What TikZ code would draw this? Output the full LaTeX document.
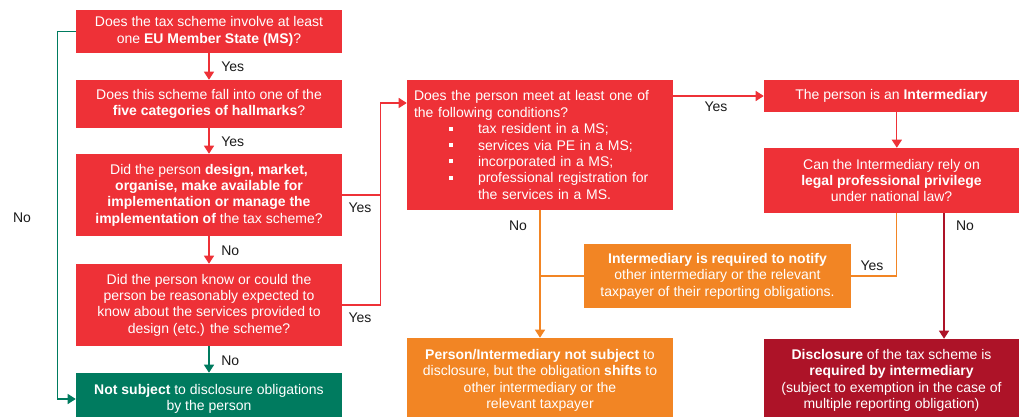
\documentclass[tikz,border=0pt]{standalone}
\usepackage{fontspec}
\setmainfont{Liberation Sans}
\usetikzlibrary{arrows.meta,calc}
\definecolor{cred}{HTML}{EE3137}
\definecolor{cgreen}{HTML}{007B5F}
\definecolor{corange}{HTML}{F28524}
\definecolor{cdark}{HTML}{AD1328}
\definecolor{ctext}{HTML}{1A1A1A}
\newcommand{\bul}{\rule[2.2pt]{3pt}{3pt}}
\begin{document}
\begin{tikzpicture}[x=0.75pt,y=-0.75pt,
  box/.style={rectangle, inner sep=0pt, text=white, align=center,
    font=\fontsize{10.5}{12.3}\selectfont},
  redbox/.style={box, fill=cred},
  greenbox/.style={box, fill=cgreen},
  orangebox/.style={box, fill=corange},
  darkbox/.style={box, fill=cdark},
  lbl/.style={text=ctext, font=\fontsize{10.5}{12.3}\selectfont, inner sep=0pt},
  conn/.style={line width=0.9pt},
  tip/.style={-{Triangle[width=7.5pt,length=6pt]}}
]
\useasboundingbox (0,0) rectangle (1021,417);
\fill[white] (0,0) rectangle (1021,417);

% left column
\node[redbox, minimum width=199.5pt, minimum height=32.25pt] (A) at (209,31.5)
  {Does the tax scheme involve at least\\ one \textbf{EU Member State (MS)}?};
\node[redbox, minimum width=199.5pt, minimum height=36pt] (B) at (209,104)
  {Does this scheme fall into one of the\\ \textbf{five categories of hallmarks}?};
\node[redbox, minimum width=199.5pt, minimum height=61.5pt] (C) at (209,195)
  {Did the person \textbf{design, market,}\\ \textbf{organise, make available for}\\ \textbf{implementation or manage the}\\ \textbf{implementation of} the tax scheme?};
\node[redbox, minimum width=199.5pt, minimum height=61.5pt] (D) at (209,305)
  {Did the person know or could the\\ person be reasonably expected to\\ know about the services provided to\\ design (etc.) the scheme?};
\node[greenbox, minimum width=199.5pt, minimum height=39pt] (E) at (209,399)
  {\textbf{Not subject} to disclosure obligations\\ by the person};

% middle column
\node[redbox, minimum width=199.5pt, minimum height=97.5pt, text width=189pt, align=left] (F) at (540,145)
  {Does the person meet at least one of\\ the following conditions?\\
   \hspace*{26pt}\bul\hspace{19pt}tax resident in a MS;\\
   \hspace*{26pt}\bul\hspace{19pt}services via PE in a MS;\\
   \hspace*{26pt}\bul\hspace{19pt}incorporated in a MS;\\
   \hspace*{26pt}\bul\hspace{19pt}professional registration for\\
   \hspace*{48pt}the services in a MS.};
\node[orangebox, minimum width=199.5pt, minimum height=63.75pt] (K) at (540,380.5)
  {\textbf{Person/Intermediary not subject} to\\ disclosure, but the obligation \textbf{shifts} to\\ other intermediary or the\\ relevant taxpayer};
\node[orangebox, minimum width=200.25pt, minimum height=48pt] (I) at (717.5,276)
  {\textbf{Intermediary is required to notify}\\ other intermediary or the relevant\\ taxpayer of their reporting obligations.};

% right column
\node[redbox, minimum width=191.25pt, minimum height=24pt] (G) at (891.5,96)
  {The person is an \textbf{Intermediary}};
\node[redbox, minimum width=191.25pt, minimum height=48.75pt] (H) at (891.5,180.5)
  {Can the Intermediary rely on\\ \textbf{legal professional privilege}\\ under national law?};
\node[darkbox, minimum width=191.25pt, minimum height=62.25pt] (J) at (891.5,380.5)
  {\textbf{Disclosure} of the tax scheme is\\ \textbf{required by intermediary}\\ (subject to exemption in the case of\\ multiple reporting obligation)};

% left column connectors
\draw[conn, cred, tip] (A) -- (B);
\draw[conn, cred, tip] (B) -- (C);
\draw[conn, cred, tip] (C) -- (D);
\draw[conn, cgreen, tip] (D) -- (E);
\node[lbl, anchor=west] (yA) at (221,67) {Yes};
\node[lbl, anchor=west] (yB) at (221,142) {Yes};
\node[lbl, anchor=west] (nC) at (221,251) {No};
\node[lbl, anchor=west] (nD) at (221,361) {No};

% green No path
\draw[conn, cgreen, tip] (A.west) -- ++(-18,0) |- (E.west);
\node[lbl] (nA) at (22,218) {No};

% Yes paths into F
\coordinate (Fin) at ([yshift=31.5pt]F.west);
\draw[conn, cred, tip] (C.east) -| ([xshift=-19.5pt]Fin) -- (Fin);
\draw[conn, cred] (D.east) -| ([xshift=-19.5pt]Fin);
\node[lbl] (yC) at (360,208) {Yes};
\node[lbl] (yD) at (360,318) {Yes};

% F to G
\draw[conn, cred, tip] (G.west -| F.east) -- (G.west);
\node[lbl] (yF) at (716,107) {Yes};

% G to H
\draw[conn, cred, tip] ([xshift=4pt]G.south) -- ([xshift=4pt]G.south |- H.north);

% H to I (Yes) and H to J (No)
\draw[conn, corange] ([xshift=4pt]H.south) |- (I.east);
\node[lbl] (yH) at (872,266) {Yes};
\draw[conn, cdark, tip] ([xshift=39.4pt]H.south) -- ([xshift=39.4pt]H.south |- J.north);
\node[lbl] (nH) at (965,226) {No};

% F to K (No) and I join
\draw[conn, corange, tip] (F.south) -- (K.north);
\draw[conn, corange] (I.west) -- (I.west -| F.south);
\node[lbl] (nF) at (518,226) {No};
\end{tikzpicture}
\end{document}
